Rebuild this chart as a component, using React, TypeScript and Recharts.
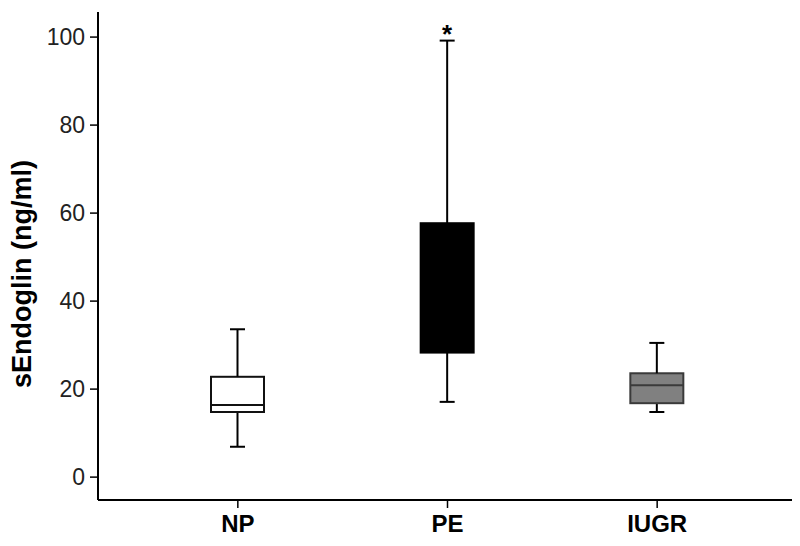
import React from "react";
import { ComposedChart, Bar, XAxis, YAxis, Label, LabelList } from "recharts";

const categories = ["NP", "PE", "IUGR"];
const whiskerLow = [6.9, 17.1, 14.8];
const q1 = [14.8, 28.3, 16.8];
const median = [16.4, 42.0, 20.9];
const q3 = [22.8, 57.7, 23.6];
const whiskerHigh = [33.6, 99.2, 30.5];
const boxFills = ["#ffffff", "#000000", "#808080"];
const boxStrokes = ["#111111", "#000000", "#3a3a3a"];
const marks = ["", "*", ""];
const yTicks = [0, 20, 40, 60, 80, 100];

const data = categories.map((c, i) => ({
  name: c,
  base: whiskerLow[i],
  lowW: q1[i] - whiskerLow[i],
  lowBox: median[i] - q1[i],
  highBox: q3[i] - median[i],
  highW: whiskerHigh[i] - q3[i],
  fill: boxFills[i],
  stroke: boxStrokes[i],
  mark: marks[i],
}));

const CAP = 15;

const Empty = () => null;

const LowWhisker = (props: any) => {
  const { x, y, width, height } = props;
  const cx = x + width / 2;
  const bottom = y + height;
  return (
    <g>
      <line x1={cx} x2={cx} y1={y} y2={bottom} stroke="#000" strokeWidth={2} />
      <line x1={cx - CAP / 2} x2={cx + CAP / 2} y1={bottom} y2={bottom} stroke="#000" strokeWidth={2} />
    </g>
  );
};

const HighWhisker = (props: any) => {
  const { x, y, width, height } = props;
  const cx = x + width / 2;
  return (
    <g>
      <line x1={cx} x2={cx} y1={y} y2={y + height} stroke="#000" strokeWidth={2} />
      <line x1={cx - CAP / 2} x2={cx + CAP / 2} y1={y} y2={y} stroke="#000" strokeWidth={2} />
    </g>
  );
};

// Draws the full box (q1..q3) from the lower segment, using the segment's own pixel scale.
const BoxShape = (props: any) => {
  const { x, y, width, height, payload } = props;
  const perUnit = payload.lowBox > 0 ? height / payload.lowBox : 0;
  const upperH = payload.highBox * perUnit;
  const top = y - upperH;
  return (
    <g>
      <rect
        x={x}
        y={top}
        width={width}
        height={height + upperH}
        fill={payload.fill}
        stroke={payload.stroke}
        strokeWidth={2}
      />
      <line x1={x} x2={x + width} y1={y} y2={y} stroke={payload.stroke} strokeWidth={2} />
    </g>
  );
};

const StarLabel = (props: any) => {
  const { x, y, width, value } = props;
  if (!value) return null;
  return (
    <text
      x={x + width / 2}
      y={y + 2}
      textAnchor="middle"
      fontFamily="Liberation Sans, Arial, sans-serif"
      fontWeight="bold"
      fontSize={26}
      fill="#000"
    >
      {value}
    </text>
  );
};

export default function App() {
  return (
    <div style={{ position: "absolute", left: 0, top: 0, background: "#fff" }}>
      <ComposedChart
        width={800}
        height={546}
        data={data}
        margin={{ top: 12, right: 8, bottom: 16, left: 0 }}
      >
        <XAxis
          dataKey="name"
          type="category"
          height={30}
          padding={{ left: 35, right: 30 }}
          axisLine={{ stroke: "#000", strokeWidth: 2 }}
          tickLine={{ stroke: "#000", strokeWidth: 1.5 }}
          tickSize={8}
          tick={{
            fill: "#000",
            fontSize: 24,
            fontWeight: "bold",
            fontFamily: "Liberation Sans, Arial, sans-serif",
            dy: 5,
          }}
        />
        <YAxis
          type="number"
          domain={[-5.2, 105.7]}
          ticks={yTicks}
          width={98}
          allowDataOverflow
          axisLine={{ stroke: "#000", strokeWidth: 2 }}
          tickLine={{ stroke: "#000", strokeWidth: 1.5 }}
          tickSize={8}
          tick={{
            fill: "#222",
            fontSize: 23,
            fontFamily: "Liberation Sans, Arial, sans-serif",
            dx: -3,
          }}
        >
          <Label
            value="sEndoglin (ng/ml)"
            angle={-90}
            position="insideLeft"
            offset={0}
            dx={21}
            dy={18}
            style={{
              textAnchor: "middle",
              fill: "#000",
              fontSize: 27,
              fontWeight: "bold",
              fontFamily: "Liberation Sans, Arial, sans-serif",
            }}
          />
        </YAxis>
        <Bar dataKey="base" stackId="b" barSize={53} shape={<Empty />} isAnimationActive={false} />
        <Bar dataKey="lowW" stackId="b" barSize={53} shape={<LowWhisker />} isAnimationActive={false} />
        <Bar dataKey="lowBox" stackId="b" barSize={53} shape={<BoxShape />} isAnimationActive={false} />
        <Bar dataKey="highBox" stackId="b" barSize={53} shape={<Empty />} isAnimationActive={false} />
        <Bar dataKey="highW" stackId="b" barSize={53} shape={<HighWhisker />} isAnimationActive={false}>
          <LabelList dataKey="mark" content={<StarLabel />} />
        </Bar>
      </ComposedChart>
    </div>
  );
}
